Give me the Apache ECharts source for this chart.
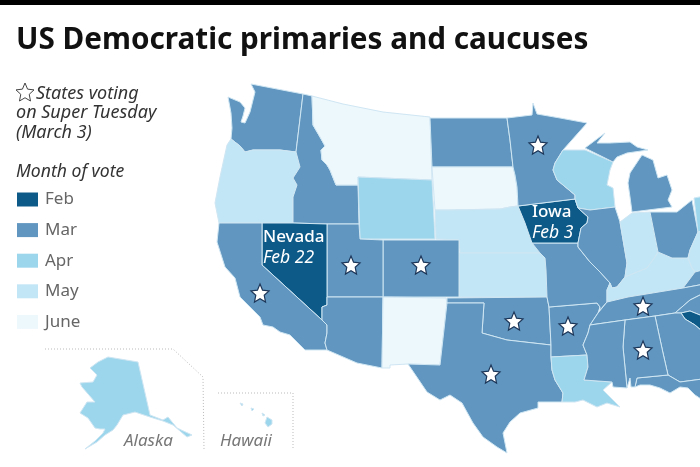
<!DOCTYPE html>
<html><head><meta charset="utf-8">
<style>html,body{margin:0;padding:0;background:#fff}#c{width:700px;height:467px}</style>
<script src="https://cdn.jsdelivr.net/npm/echarts@6/dist/echarts.min.js"></script>
</head><body><div id="c"></div>
<script>
// ---- data ----
const monthLabels = ['Feb', 'Mar', 'Apr', 'May', 'June'];
const monthColors = ['#0d5a88', '#6096bf', '#9cd6ec', '#c3e6f6', '#edf8fd'];
const febStates = ['Iowa', 'Nevada', 'South Carolina'];
const marStates = ['Washington', 'Idaho', 'North Dakota', 'Minnesota', 'Michigan', 'Utah', 'Colorado', 'Arizona', 'California', 'Texas', 'Oklahoma', 'Arkansas', 'Missouri', 'Illinois', 'Ohio', 'Tennessee', 'Mississippi', 'Alabama', 'Georgia', 'Florida', 'Virginia', 'North Carolina'];
const aprStates = ['Wyoming', 'Wisconsin', 'Louisiana', 'Alaska', 'Hawaii', 'Pennsylvania'];
const mayStates = ['Oregon', 'Nebraska', 'Kansas', 'Indiana', 'Kentucky', 'West Virginia'];
const juneStates = ['Montana', 'South Dakota', 'New Mexico'];
const monthStates = [febStates, marStates, aprStates, mayStates, juneStates];
const superTuesdayStates = ['California', 'Utah', 'Colorado', 'Minnesota', 'Oklahoma', 'Arkansas', 'Texas', 'Tennessee', 'Alabama'];
const calloutStates = ['Nevada', 'Iowa'];
const calloutDates = ['Feb 22', 'Feb 3'];

// ---- base map geometry, traced in map units ----
const outlines = {
 Washington:[[251,84],[303,94],[296,152],[280,150],[265,150],[253,150],[245,152],[240,146],[231,139],[232,128],[231,113],[228,97],[240,102],[245,108],[243,116],[241,122],[245,123],[250,112],[253,100],[255,92]],
 Oregon:[[296,152],[300,167],[293,178],[297,185],[293,197],[293,223],[219,223],[215,203],[220,177],[227,145],[231,139],[240,146],[245,152],[253,150],[265,150],[280,150]],
 Idaho:[[303,94],[312,96],[313,125],[320,137],[325,146],[321,150],[322,160],[327,165],[330,170],[336,185],[343,185],[358,185],[359,224],[327,224],[293,223],[293,197],[297,185],[293,178],[300,167],[296,152]],
 Montana:[[312,96],[343,104],[383,112],[430,117],[432,180],[358,177],[358,185],[343,185],[336,185],[330,170],[327,165],[322,160],[321,150],[325,146],[320,137],[313,125]],
 Wyoming:[[358,177],[432,180],[435,239],[360,239]],
 'North Dakota':[[430,118],[507,118],[510,140],[513,167],[432,167]],
 'South Dakota':[[432,167],[513,167],[515,175],[517,187],[518,206],[510,207],[500,209],[450,210],[435,210]],
 Nebraska:[[435,210],[450,210],[500,209],[510,207],[518,206],[525,223],[532,243],[540,253],[460,253],[459,240],[436,239]],
 Kansas:[[459,253],[540,253],[545,258],[546,270],[547,297],[459,297]],
 Colorado:[[383,240],[459,240],[459,297],[383,297]],
 Utah:[[327,224],[359,224],[360,239],[383,240],[383,297],[327,297]],
 Nevada:[[262,223],[293,223],[327,224],[327,297],[327,305],[322,307],[322,320],[262,265]],
 California:[[219,223],[262,223],[262,265],[322,320],[327,325],[327,333],[325,343],[327,350],[305,350],[290,335],[280,332],[273,327],[263,325],[260,317],[250,307],[240,297],[235,278],[225,267],[217,242]],
 Arizona:[[327,297],[383,297],[382,368],[357,363],[327,350],[325,343],[327,333],[327,325],[322,320],[322,307],[327,305]],
 'New Mexico':[[383,297],[446,298],[447,303],[440,365],[408,364],[390,365],[390,368],[382,368]],
 Oklahoma:[[447,298],[547,297],[549,307],[551,345],[507,340],[482,333],[484,303],[447,303]],
 Texas:[[447,303],[484,303],[482,333],[507,340],[551,345],[551,357],[552,370],[555,380],[563,393],[562,402],[542,402],[538,402],[538,408],[520,413],[510,422],[503,433],[507,453],[497,447],[483,437],[473,423],[462,403],[450,395],[440,400],[427,392],[408,364],[440,365]],
 Arkansas:[[549,307],[597,303],[600,307],[598,313],[590,325],[588,333],[583,345],[587,355],[551,357],[551,345]],
 Louisiana:[[551,357],[587,355],[588,367],[584,380],[612,382],[603,390],[620,407],[607,403],[597,407],[583,400],[575,402],[562,402],[563,393],[555,380],[552,370]],
 Missouri:[[532,243],[578,243],[578,247],[590,262],[600,272],[610,283],[607,290],[607,302],[600,310],[600,307],[597,303],[549,307],[547,297],[546,270],[545,258],[540,253]],
 Iowa:[[518,206],[575,199],[578,208],[588,217],[587,223],[581,228],[578,243],[532,243],[525,223]],
 Minnesota:[[507,118],[532,115],[533,103],[537,114],[560,118],[587,123],[563,150],[555,163],[553,170],[557,180],[575,195],[575,199],[518,206],[517,187],[515,175],[513,167],[510,140]],
 Wisconsin:[[563,150],[585,150],[613,162],[610,170],[607,185],[613,188],[615,207],[590,210],[578,208],[575,199],[575,195],[557,180],[553,170],[555,163]],
 Illinois:[[590,210],[615,207],[620,222],[627,263],[625,277],[617,287],[612,288],[610,283],[600,272],[590,262],[578,247],[578,243],[581,228],[587,223],[588,217],[578,208]],
 Indiana:[[620,222],[632,213],[650,212],[658,252],[655,257],[647,268],[625,277],[627,263]],
 Kentucky:[[612,288],[617,287],[625,277],[647,268],[655,257],[658,252],[672,258],[688,258],[692,268],[695,272],[683,288],[628,297],[607,302],[607,290],[610,283]],
 Ohio:[[650,212],[677,212],[692,200],[698,232],[690,250],[688,258],[672,258],[658,252]],
 'West Virginia':[[698,232],[710,228],[710,268],[695,272],[692,268],[688,258],[690,250]],
 Pennsylvania:[[694,198],[710,195],[710,228],[698,232]],
 Virginia:[[683,288],[695,272],[710,268],[710,283]],
 Tennessee:[[607,302],[628,297],[683,288],[710,283],[710,290],[690,300],[675,313],[655,316],[625,320],[590,325],[598,313]],
 'North Carolina':[[675,313],[690,300],[710,290],[710,318],[700,315],[690,311],[681,313]],
 'South Carolina':[[681,313],[690,311],[700,315],[710,318],[710,338],[695,325],[685,319]],
 Georgia:[[655,316],[675,313],[681,313],[685,319],[695,325],[710,338],[710,378],[680,382],[668,375],[663,353]],
 Florida:[[637,378],[668,375],[680,382],[710,378],[710,405],[695,395],[688,388],[680,387],[670,393],[660,388],[650,385],[640,385],[635,387]],
 Alabama:[[625,320],[655,316],[663,353],[668,375],[637,378],[635,387],[631,387],[630,378],[627,388],[623,347]],
 Mississippi:[[590,325],[625,320],[623,347],[627,388],[613,387],[612,382],[584,380],[588,367],[587,355],[583,345],[588,333]]
};
const outlineParts = {
 Michigan:[[[585,148],[605,133],[597,143],[610,143],[630,142],[637,147],[648,150],[627,153],[617,157],[613,162]],
           [[630,173],[642,155],[653,160],[658,178],[667,175],[672,190],[668,200],[672,207],[632,212],[630,197],[628,183]]],
 Alaska:[[[90,368],[98,362],[108,357],[138,362],[150,415],[163,420],[168,417],[177,428],[192,435],[187,437],[173,425],[163,421],[150,417],[135,412],[123,415],[117,425],[113,430],[105,435],[97,442],[85,449],[95,441],[103,433],[105,429],[100,429],[95,428],[88,418],[80,413],[87,402],[95,402],[82,387],[80,383],[93,382],[97,375]]],
 Hawaii:[[[267,417],[272,420],[272,424],[268,427],[265,423]],[[240,403],[243,404],[242,406]],[[251,408],[254,409],[252,411]],[[262,413],[265,415],[263,416]]]
};
const anchors = {
 California:[260,293], Utah:[351,265], Colorado:[421,265], Minnesota:[538,145], Oklahoma:[514,321],
 Arkansas:[568,326], Texas:[491,374], Tennessee:[643,306], Alabama:[643,350],
 Nevada:[263,248], Iowa:[532,223]
};

// ---- build the map ----
const flip = ring => { const r = ring.map(p => [p[0], -p[1]]); r.push(r[0]); return r; };
const features = [];
Object.keys(outlines).forEach(n => features.push({type:'Feature',properties:{name:n},geometry:{type:'Polygon',coordinates:[flip(outlines[n])]}}));
Object.keys(outlineParts).forEach(n => features.push({type:'Feature',properties:{name:n},geometry:{type:'MultiPolygon',coordinates:outlineParts[n].map(r=>[flip(r)])}}));
echarts.registerMap('us', {type:'FeatureCollection',features});

const mapData = [];
monthStates.forEach((list,i) => list.forEach(n => mapData.push({name:n,value:i})));
const toGeo = n => [anchors[n][0], -anchors[n][1]];
const starPath = 'path://M50 2 L64 34 L99 38 L73 61 L80 96 L50 79 L20 96 L27 61 L1 38 L36 34 Z';
const font = 'Noto Sans';
const ital = {fontFamily:font,fontStyle:'italic',fontWeight:'normal'};

const chart = echarts.init(document.getElementById('c'), null, {renderer:'canvas'});
chart.setOption({
 animation:false,
 backgroundColor:'#fff',
 title:[
  {text:'US Democratic primaries and caucuses',left:16,top:26,padding:0,textStyle:{fontFamily:font,fontWeight:'bold',fontSize:29.7,color:'#111'}},
  {text:'States voting',left:36,top:85,padding:0,textStyle:{...ital,fontSize:18,color:'#333'}},
  {text:'on Super Tuesday\n(March 3)',left:16,top:103,padding:0,textStyle:{...ital,fontSize:18,lineHeight:20,color:'#333'}},
  {text:'Month of vote',left:16,top:163,padding:0,textStyle:{...ital,fontSize:17.6,color:'#333'}},
  {text:'Alaska',left:124,top:433,padding:0,textStyle:{...ital,fontSize:17,color:'#777'}},
  {text:'Hawaii',left:220,top:433,padding:0,textStyle:{...ital,fontSize:17,color:'#777'}}
 ],
 visualMap:{
  type:'piecewise',show:true,seriesIndex:0,left:17,top:191,padding:0,orient:'vertical',inverse:true,
  itemWidth:21,itemHeight:14,itemGap:13.6,textGap:7,align:'left',selectedMode:false,itemSymbol:'rect',
  pieces:monthLabels.map((m,i)=>({value:i,label:m,color:monthColors[i],symbol:'rect'})),
  textStyle:{fontFamily:font,fontSize:17,lineHeight:14,color:'#666'}
 },
 geo:{
  map:'us',aspectScale:1,left:0,top:0,width:700,height:467,boundingCoords:[[0,0],[700,-467]],
  roam:false,silent:true,
  label:{show:false},
  itemStyle:{areaColor:'#fff',borderColor:'#cfe6f3',borderWidth:1},
  emphasis:{disabled:true}
 },
 series:[
  {type:'map',geoIndex:0,data:mapData,silent:true},
  {type:'scatter',coordinateSystem:'geo',silent:true,symbol:starPath,symbolSize:18,z:5,
   itemStyle:{color:'#fff',opacity:1,borderColor:'#1b3558',borderWidth:1.2},
   data:superTuesdayStates.map(n=>({name:n,value:toGeo(n)}))},
  {type:'scatter',coordinateSystem:'geo',silent:true,symbolSize:0,z:6,itemStyle:{opacity:1},
   data:calloutStates.map((n,i)=>({name:n,value:toGeo(n),
     label:{show:true,opacity:1,position:'right',distance:0,formatter:'{a|'+n+'}\n{b|'+calloutDates[i]+'}',
       rich:{a:{fontFamily:font,fontSize:17,fontWeight:500,color:'#fff',lineHeight:21},
             b:{fontFamily:font,fontSize:17.5,fontStyle:'italic',color:'#fff',lineHeight:21}}}}))},
  {type:'scatter',coordinateSystem:'geo',silent:true,symbol:starPath,symbolSize:18,z:5,
   itemStyle:{color:'#fff',opacity:1,borderColor:'#444',borderWidth:1},
   data:[[25,-92]]}
 ],
 graphic:[
  {type:'rect',shape:{x:0,y:0,width:700,height:5},style:{fill:'#000'},silent:true},
  {type:'polyline',shape:{points:[[45,349],[173,349],[203,377],[204,450]]},style:{stroke:'#bbb',lineWidth:1,lineDash:[1,2],fill:null},silent:true},
  {type:'polyline',shape:{points:[[218,393],[293,393],[293,450]]},style:{stroke:'#bbb',lineWidth:1,lineDash:[1,2],fill:null},silent:true}
 ]
});
</script></body></html>
